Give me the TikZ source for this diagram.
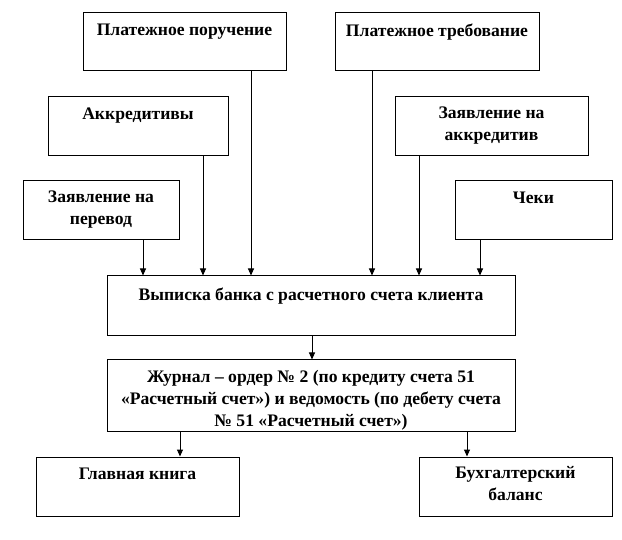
\documentclass[tikz,border=0pt]{standalone}
\usepackage{fontspec}
\setmainfont{Liberation Serif}
\usetikzlibrary{arrows.meta}
\begin{document}
\begin{tikzpicture}[x=1pt,y=-1pt,
  box/.style={draw, line width=1pt, inner sep=0pt},
  txt/.style={anchor=north, inner sep=0pt, align=center, font=\fontsize{17.6}{22}\selectfont\bfseries},
  arr/.style={line width=1pt, -{Triangle[length=7pt,width=6pt]}}]
\useasboundingbox (0,0) rectangle (622,540);
% boxes
\node[box, minimum width=203, minimum height=58] (pp) at (184.5,42) {};
\node[box, minimum width=180, minimum height=59] (ak) at (138,126.5) {};
\node[box, minimum width=156, minimum height=59] (zp) at (101,210.5) {};
\node[box, minimum width=204, minimum height=58] (pt) at (437,42) {};
\node[box, minimum width=193, minimum height=59] (za) at (491.5,126.5) {};
\node[box, minimum width=157, minimum height=59] (ch) at (533.5,210.5) {};
\node[box, minimum width=408, minimum height=60] (vb) at (311,306) {};
\node[box, minimum width=408, minimum height=72] (jr) at (311,396) {};
\node[box, minimum width=203, minimum height=59] (gk) at (137.5,486.5) {};
\node[box, minimum width=193, minimum height=59] (bb) at (515.5,486.5) {};
% texts
\node[txt] (tpp) at ([yshift=-11pt]pp.north) {Платежное поручение};
\node[txt] (tak) at ([yshift=-11pt]ak.north) {Аккредитивы};
\node[txt] (tzp) at ([yshift=-10pt]zp.north) {Заявление на\\перевод};
\node[txt] (tpt) at ([yshift=-11pt]pt.north) {Платежное требование};
\node[txt] (tza) at ([yshift=-10pt]za.north) {Заявление на\\аккредитив};
\node[txt] (tch) at ([yshift=-11pt]ch.north) {Чеки};
\node[txt] (tvb) at ([yshift=-12pt]vb.north) {Выписка банка с расчетного счета клиента};
\node[txt] (tjr) at ([yshift=-11pt]jr.north) {Журнал – ордер № 2 (по кредиту счета 51\\«Расчетный счет») и ведомость (по дебету счета\\№ 51 «Расчетный счет»)};
\node[txt] (tgk) at ([yshift=-11pt]gk.north) {Главная книга};
\node[txt] (tbb) at ([yshift=-10pt]bb.north) {Бухгалтерский\\баланс};
% arrows
\draw[arr] (zp.south -| 143,0) -- (vb.north -| 143,0);
\draw[arr] (ak.south -| 203,0) -- (vb.north -| 203,0);
\draw[arr] (pp.south -| 251,0) -- (vb.north -| 251,0);
\draw[arr] (pt.south -| 372,0) -- (vb.north -| 372,0);
\draw[arr] (za.south -| 419,0) -- (vb.north -| 419,0);
\draw[arr] (ch.south -| 480,0) -- (vb.north -| 480,0);
\draw[arr] (vb.south -| 312,0) -- (jr.north -| 312,0);
\draw[arr] (jr.south -| 180,0) -- (gk.north -| 180,0);
\draw[arr] (jr.south -| 467,0) -- (bb.north -| 467,0);
\end{tikzpicture}
\end{document}
